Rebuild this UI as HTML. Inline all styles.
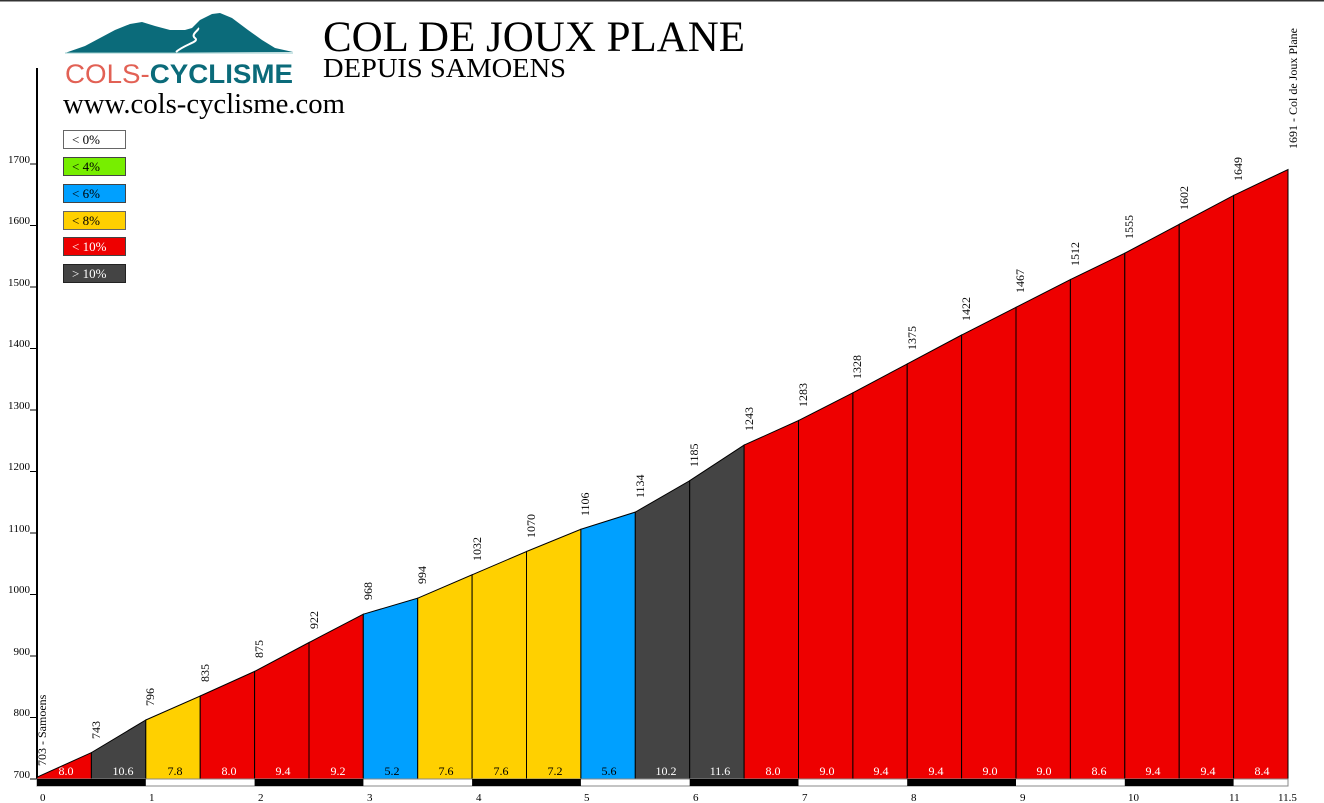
<!DOCTYPE html>
<html><head><meta charset="utf-8"><style>
html,body{margin:0;padding:0;background:#fff;}
svg{display:block;}
</style></head><body>
<svg width="1324" height="803" viewBox="0 0 1324 803" xmlns="http://www.w3.org/2000/svg" font-family="Liberation Serif, serif">
<rect x="0" y="0" width="1324" height="803" fill="#fff"/>
<line x1="0" y1="0.5" x2="1324" y2="0.5" stroke="#333" stroke-width="2"/>
<!-- logo -->
<path d="M65,53 L85,46 L100,38 L115,30 L130,24 L142,22 L155,26 L170,30 L185,30 L192,28 L200,20 L212,14 L220,13 L232,18 L248,30 L262,40 L275,48 L293,52 Z" fill="#0b6b7a"/>
<path d="M176,52 C185,44 200,42 195,38 C190,34 200,30 198,28" stroke="#fff" stroke-width="2" fill="none"/>
<line x1="65" y1="53" x2="293" y2="53" stroke="#9cc" stroke-width="1"/>
<text x="65" y="83" font-family="Liberation Sans, sans-serif" font-size="27" textLength="228" lengthAdjust="spacingAndGlyphs"><tspan fill="#e26155">COLS-</tspan><tspan fill="#0b6b7a" font-weight="bold">CYCLISME</tspan></text>
<text x="323" y="51" font-size="43" fill="#000" textLength="422" lengthAdjust="spacingAndGlyphs">COL DE JOUX PLANE</text>
<text x="323" y="77" font-size="27" fill="#000" textLength="243" lengthAdjust="spacingAndGlyphs">DEPUIS SAMOENS</text>
<text x="63" y="113" font-size="28" fill="#000" textLength="282" lengthAdjust="spacingAndGlyphs">www.cols-cyclisme.com</text>
<!-- legend -->
<g font-size="13" stroke-width="1">
<rect x="63.5" y="130.5" width="62" height="18" fill="#fff" stroke="#666"/><text x="72" y="144" fill="#000">&lt; 0%</text>
<rect x="63.5" y="157.5" width="62" height="18" fill="#77ee00" stroke="#444"/><text x="72" y="171" fill="#000">&lt; 4%</text>
<rect x="63.5" y="184.5" width="62" height="18" fill="#00a0ff" stroke="#444"/><text x="72" y="198" fill="#000">&lt; 6%</text>
<rect x="63.5" y="211.5" width="62" height="18" fill="#ffd000" stroke="#666"/><text x="72" y="225" fill="#000">&lt; 8%</text>
<rect x="63.5" y="237.5" width="62" height="18" fill="#ee0000" stroke="#444"/><text x="72" y="251" fill="#fff">&lt; 10%</text>
<rect x="63.5" y="264.5" width="62" height="18" fill="#444" stroke="#222"/><text x="72" y="278" fill="#fff">&gt; 10%</text>
</g>
<!-- y axis -->
<line x1="37" y1="68" x2="37" y2="779" stroke="#000" stroke-width="2"/>
<g stroke="#000" stroke-width="1">
<line x1="30" y1="779" x2="37" y2="779"/><line x1="30" y1="717.5" x2="37" y2="717.5"/><line x1="30" y1="656" x2="37" y2="656"/><line x1="30" y1="594.5" x2="37" y2="594.5"/><line x1="30" y1="533" x2="37" y2="533"/><line x1="30" y1="471.5" x2="37" y2="471.5"/><line x1="30" y1="410" x2="37" y2="410"/><line x1="30" y1="348.5" x2="37" y2="348.5"/><line x1="30" y1="287" x2="37" y2="287"/><line x1="30" y1="225.5" x2="37" y2="225.5"/><line x1="30" y1="164" x2="37" y2="164"/>
</g>
<g font-size="11" text-anchor="end" fill="#000">
<text x="30" y="778">700</text><text x="30" y="716">800</text><text x="30" y="655">900</text><text x="30" y="593">1000</text><text x="30" y="532">1100</text><text x="30" y="470">1200</text><text x="30" y="409">1300</text><text x="30" y="347">1400</text><text x="30" y="286">1500</text><text x="30" y="224">1600</text><text x="30" y="163">1700</text>
</g>
<!-- segments -->
<g stroke="#000" stroke-width="1">
<polygon points="37,779 37,777.2 91.4,752.6 91.4,779" fill="#ee0000"/>
<polygon points="91.4,779 91.4,752.6 145.8,720 145.8,779" fill="#444"/>
<polygon points="145.8,779 145.8,720 200.2,696 200.2,779" fill="#ffd000"/>
<polygon points="200.2,779 200.2,696 254.6,671.4 254.6,779" fill="#ee0000"/>
<polygon points="254.6,779 254.6,671.4 309,642.5 309,779" fill="#ee0000"/>
<polygon points="309,779 309,642.5 363.3,614.2 363.3,779" fill="#ee0000"/>
<polygon points="363.3,779 363.3,614.2 417.7,598.2 417.7,779" fill="#00a0ff"/>
<polygon points="417.7,779 417.7,598.2 472.1,574.8 472.1,779" fill="#ffd000"/>
<polygon points="472.1,779 472.1,574.8 526.5,551.5 526.5,779" fill="#ffd000"/>
<polygon points="526.5,779 526.5,551.5 580.9,529.3 580.9,779" fill="#ffd000"/>
<polygon points="580.9,779 580.9,529.3 635.3,512.1 635.3,779" fill="#00a0ff"/>
<polygon points="635.3,779 635.3,512.1 689.7,480.7 689.7,779" fill="#444"/>
<polygon points="689.7,779 689.7,480.7 744.1,445.1 744.1,779" fill="#444"/>
<polygon points="744.1,779 744.1,445.1 798.5,420.5 798.5,779" fill="#ee0000"/>
<polygon points="798.5,779 798.5,420.5 852.9,392.8 852.9,779" fill="#ee0000"/>
<polygon points="852.9,779 852.9,392.8 907.2,363.9 907.2,779" fill="#ee0000"/>
<polygon points="907.2,779 907.2,363.9 961.6,335 961.6,779" fill="#ee0000"/>
<polygon points="961.6,779 961.6,335 1016,307.3 1016,779" fill="#ee0000"/>
<polygon points="1016,779 1016,307.3 1070.4,279.6 1070.4,779" fill="#ee0000"/>
<polygon points="1070.4,779 1070.4,279.6 1124.8,253.2 1124.8,779" fill="#ee0000"/>
<polygon points="1124.8,779 1124.8,253.2 1179.2,224.3 1179.2,779" fill="#ee0000"/>
<polygon points="1179.2,779 1179.2,224.3 1233.6,195.4 1233.6,779" fill="#ee0000"/>
<polygon points="1233.6,779 1233.6,195.4 1288,169.5 1288,779" fill="#ee0000"/>
</g>
<!-- percent labels -->
<g font-size="12" fill="#fff" text-anchor="middle">
<text x="66" y="775">8.0</text><text x="123" y="775">10.6</text><text x="175" y="775" fill="#000">7.8</text><text x="229" y="775">8.0</text><text x="283" y="775">9.4</text><text x="338" y="775">9.2</text><text x="392" y="775" fill="#000">5.2</text><text x="446" y="775" fill="#000">7.6</text><text x="501" y="775" fill="#000">7.6</text><text x="555" y="775" fill="#000">7.2</text><text x="609" y="775" fill="#000">5.6</text><text x="666" y="775">10.2</text><text x="720" y="775">11.6</text><text x="773" y="775">8.0</text><text x="827" y="775">9.0</text><text x="881" y="775">9.4</text><text x="936" y="775">9.4</text><text x="990" y="775">9.0</text><text x="1044" y="775">9.0</text><text x="1099" y="775">8.6</text><text x="1153" y="775">9.4</text><text x="1208" y="775">9.4</text><text x="1262" y="775">8.4</text>
</g>
<!-- km strip -->
<rect x="37" y="779" width="1251" height="7" fill="#fff" stroke="#888" stroke-width="1"/>
<g fill="#000">
<rect x="37" y="779" width="108.8" height="7"/><rect x="254.6" y="779" width="108.8" height="7"/><rect x="472.1" y="779" width="108.8" height="7"/><rect x="689.7" y="779" width="108.8" height="7"/><rect x="907.2" y="779" width="108.8" height="7"/><rect x="1124.8" y="779" width="108.8" height="7"/>
</g>
<g font-size="11" fill="#000">
<text x="40" y="801">0</text><text x="149" y="801">1</text><text x="258" y="801">2</text><text x="367" y="801">3</text><text x="476" y="801">4</text><text x="584" y="801">5</text><text x="693" y="801">6</text><text x="802" y="801">7</text><text x="911" y="801">8</text><text x="1020" y="801">9</text><text x="1128" y="801">10</text><text x="1229" y="801">11</text><text x="1278" y="801">11.5</text>
</g>
<!-- elevation labels -->
<g font-size="12" fill="#000">
<text transform="translate(46,766) rotate(-90)">703 - Samoens</text>
<text transform="translate(100,739) rotate(-90)">743</text>
<text transform="translate(154,706) rotate(-90)">796</text>
<text transform="translate(209,682) rotate(-90)">835</text>
<text transform="translate(263,658) rotate(-90)">875</text>
<text transform="translate(318,629) rotate(-90)">922</text>
<text transform="translate(372,600) rotate(-90)">968</text>
<text transform="translate(426,584) rotate(-90)">994</text>
<text transform="translate(481,561) rotate(-90)">1032</text>
<text transform="translate(535,538) rotate(-90)">1070</text>
<text transform="translate(589,516) rotate(-90)">1106</text>
<text transform="translate(644,498) rotate(-90)">1134</text>
<text transform="translate(698,467) rotate(-90)">1185</text>
<text transform="translate(753,431) rotate(-90)">1243</text>
<text transform="translate(807,407) rotate(-90)">1283</text>
<text transform="translate(861,379) rotate(-90)">1328</text>
<text transform="translate(916,350) rotate(-90)">1375</text>
<text transform="translate(970,321) rotate(-90)">1422</text>
<text transform="translate(1024,293) rotate(-90)">1467</text>
<text transform="translate(1079,266) rotate(-90)">1512</text>
<text transform="translate(1133,239) rotate(-90)">1555</text>
<text transform="translate(1188,210) rotate(-90)">1602</text>
<text transform="translate(1242,181) rotate(-90)">1649</text>
<text transform="translate(1297,149) rotate(-90)">1691 - Col de Joux Plane</text>
</g>
</svg>
</body></html>
